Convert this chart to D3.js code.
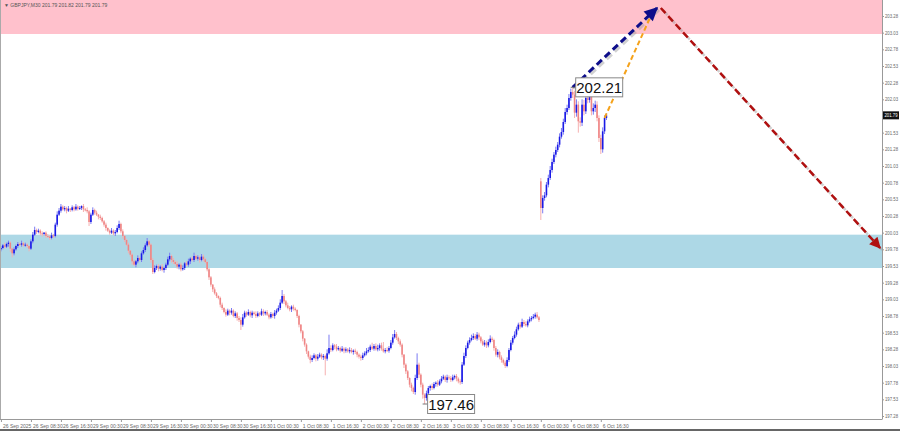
<!DOCTYPE html>
<html>
<head>
<meta charset="utf-8">
<script src="https://cdn.jsdelivr.net/npm/d3@7"></script>
<style>
  body { margin: 0; background: #fff; }
  svg { display: block; font-family: "Liberation Sans", Arial, sans-serif; }
</style>
</head>
<body>
<div id="chart"></div>
<script>
// GBPJPY M30 closes, one row per 8 hours (16 bars)
const closes = [
  199.80,199.84,199.82,199.86,199.88,199.79,199.72,199.78,199.83,199.86,199.85,199.87,199.84,199.85,199.83,199.79,
  199.90,200.00,200.07,200.04,200.06,200.02,200.01,200.03,199.98,199.97,199.95,199.99,199.98,200.15,200.30,200.36,
  200.42,200.38,200.40,200.36,200.39,200.37,200.41,200.38,200.42,200.39,200.40,200.43,200.38,200.37,200.35,200.19,
  200.30,200.37,200.33,200.30,200.27,200.25,200.20,200.15,200.10,200.06,200.03,200.06,200.02,200.04,200.10,200.16,
  200.05,199.98,199.92,199.85,199.76,199.70,199.60,199.55,199.60,199.65,199.62,199.72,199.77,199.84,199.90,199.85,
  199.62,199.44,199.50,199.53,199.49,199.52,199.47,199.50,199.55,199.63,199.68,199.62,199.59,199.56,199.52,199.55,
  199.48,199.50,199.57,199.55,199.60,199.64,199.62,199.68,199.64,199.66,199.62,199.67,199.63,199.59,199.48,199.36,
  199.25,199.18,199.12,199.08,199.05,198.95,198.90,198.84,198.80,198.86,198.83,198.86,198.78,198.82,198.75,198.72,
  198.65,198.76,198.83,198.80,198.84,198.79,198.83,198.81,198.78,198.82,198.80,198.85,198.82,198.84,198.80,198.76,
  198.81,198.78,198.83,198.86,198.90,198.98,199.08,199.00,198.94,198.90,198.88,198.92,198.89,198.87,198.78,198.65,
  198.55,198.44,198.35,198.25,198.17,198.12,198.15,198.19,198.14,198.17,198.20,198.16,198.18,198.14,198.22,198.30,
  198.27,198.34,198.32,198.28,198.30,198.26,198.29,198.26,198.28,198.25,198.27,198.24,198.26,198.24,198.20,198.17,
  198.15,198.19,198.22,198.25,198.27,198.32,198.29,198.33,198.28,198.30,198.34,198.29,198.25,198.27,198.26,198.30,
  198.38,198.46,198.51,198.45,198.40,198.35,198.20,198.05,197.95,197.85,197.75,197.70,197.64,197.85,198.05,197.90,
  197.75,197.60,197.55,197.62,197.70,197.73,197.70,197.76,197.78,197.75,197.80,197.84,197.87,197.82,197.86,197.85,
  197.82,197.86,197.88,197.84,197.80,197.79,198.05,198.18,198.30,198.38,198.42,198.45,198.48,198.44,198.50,198.46,
  198.40,198.35,198.38,198.34,198.39,198.44,198.42,198.30,198.20,198.24,198.16,198.12,198.08,198.03,198.12,198.27,
  198.38,198.45,198.50,198.58,198.65,198.62,198.69,198.66,198.64,198.70,198.73,198.75,198.77,198.80,198.76,198.72,
  200.40,200.55,200.59,200.75,200.85,200.97,201.09,201.20,201.27,201.35,201.47,201.54,201.69,201.84,201.90,202.05,
  202.14,202.10,201.83,201.95,201.70,201.68,201.95,201.85,202.05,202.02,202.08,201.85,201.90,201.95,201.75,201.45,
  201.28,201.55,201.75,201.79
];
// upper / lower shadows in pips beyond the body
const wickUp = [
  3,2,4,2,3,2,1,3,2,3,2,4,2,3,2,1,
  3,4,5,2,3,2,3,1,2,3,2,4,2,3,5,4,
  4,2,3,2,4,1,3,2,4,2,3,1,3,2,4,2,
  3,4,2,3,1,3,2,2,3,1,2,4,2,3,4,5,
  2,3,1,2,3,1,2,3,2,4,2,3,4,3,5,2,
  2,3,4,2,3,2,4,2,3,4,5,2,3,2,4,2,
  3,4,2,3,4,2,3,5,2,3,2,4,3,2,1,2,
  2,1,3,2,1,2,3,1,4,3,2,4,2,3,2,3,
  4,5,3,2,4,2,3,2,4,3,2,4,3,2,3,2,
  3,2,4,3,4,5,9,3,2,4,3,2,3,2,1,2,
  1,2,1,2,1,3,4,3,2,4,3,2,3,2,6,20,
  4,3,2,4,3,2,4,2,3,2,4,3,2,3,2,2,
  3,4,3,5,4,3,6,3,4,5,3,4,10,3,4,3,
  4,5,6,3,2,3,2,1,2,2,1,3,2,5,17,3,
  2,3,2,4,3,2,4,3,2,4,3,4,3,2,4,3,
  3,4,2,3,2,3,4,5,4,3,4,5,4,3,4,3,
  2,3,4,3,4,5,3,2,3,4,2,3,2,3,4,3,
  4,3,5,4,3,4,5,3,4,3,4,3,4,3,4,2,
  5,4,5,4,5,6,5,4,5,4,5,6,5,6,5,6,
  5,7,6,8,5,6,8,7,6,15,8,6,7,6,5,4,
  5,6,4,3
];
const wickDn = [
  3,2,3,2,4,5,6,3,2,3,2,3,2,2,3,4,
  2,3,2,3,2,3,4,2,3,2,3,2,3,2,3,2,
  3,2,3,4,2,3,2,3,2,3,2,3,4,2,3,6,
  3,2,3,2,4,3,2,3,4,2,3,2,3,4,2,3,
  3,4,3,2,4,3,5,2,4,3,2,3,2,3,2,3,
  4,3,2,3,4,3,2,4,3,2,3,4,3,2,3,4,
  3,2,3,2,3,4,2,3,2,3,4,2,3,2,3,4,
  3,4,2,3,2,4,3,2,3,2,4,3,2,3,4,3,
  8,3,2,3,2,3,4,2,3,2,3,2,4,3,2,3,
  2,3,4,3,2,3,2,4,3,2,3,4,3,2,3,4,
  3,4,3,4,3,5,3,2,4,3,2,3,4,25,3,2,
  3,2,4,3,2,3,2,4,3,2,3,2,4,3,4,3,
  4,3,2,3,2,3,2,3,2,3,4,3,2,3,2,3,
  2,3,2,3,4,3,4,5,4,3,4,5,3,4,3,5,
  4,6,9,4,3,4,3,2,4,3,2,3,2,3,4,3,
  3,2,3,4,3,4,3,2,3,2,3,2,3,2,3,4,
  3,2,3,4,3,2,3,4,3,4,3,4,3,3,2,3,
  2,3,2,3,2,3,2,3,2,3,2,3,2,3,2,3,
  18,8,4,3,4,3,4,3,4,3,4,3,4,3,4,3,
  4,5,8,6,17,6,5,6,4,5,4,6,5,6,5,6,
  7,5,4,3
];
// opens follow the previous close, except the first bar and the Monday gap
const firstOpen = 199.78;
const gapBar = 288, gapOpen = 200.80;

// 201.78 sits under the current price tag, so it is not listed
const priceTicks = [203.28,203.03,202.78,202.53,202.28,202.03,201.53,201.28,201.03,200.78,200.53,
  200.28,200.03,199.78,199.53,199.28,199.03,198.78,198.53,198.28,198.03,197.78,197.53,197.28];
const timeTickBars = [0,16,32,48,64,80,96,112,128,144,160,176,192,208,224,240,256,272,288,304,320];
const timeTickLabels = ["26 Sep 2025","26 Sep 08:30","26 Sep 16:30","29 Sep 00:30","29 Sep 08:30","29 Sep 16:30",
  "30 Sep 00:30","30 Sep 08:30","30 Sep 16:30","1 Oct 00:30","1 Oct 08:30","1 Oct 16:30","2 Oct 00:30",
  "2 Oct 08:30","2 Oct 16:30","3 Oct 00:30","3 Oct 08:30","3 Oct 16:30","6 Oct 00:30","6 Oct 08:30","6 Oct 16:30"];

const resistanceZone = [203.01, 203.70];
const supportZone = [199.50, 200.00];
const extremes = [{ bar: 305, price: 202.21 }, { bar: 226, price: 197.46 }];
const lastPrice = 201.79;
// wave forecast arrows: [bar, price]
const waveUp = [[305, 202.21], [350, 203.40]];
const waveAlt = [[322, 201.75], [347, 203.30]];
const waveDown = [[352, 203.40], [469, 199.80]];

const width = 900, height = 431;
const plotRight = 882, plotBottom = 419;

const bars = closes.map((c, i) => {
  const o = i === 0 ? firstOpen : (i === gapBar ? gapOpen : closes[i - 1]);
  return { i, o, c, h: Math.max(o, c) + wickUp[i] / 100, l: Math.min(o, c) - wickDn[i] / 100 };
});

const x = d3.scaleLinear().domain([-0.5, 470]).range([0, plotRight]);
const y = d3.scaleLinear().domain([197.28, 203.28]).range([416, 16]);

const svg = d3.select("#chart").append("svg")
  .attr("width", width)
  .attr("height", height);

const defs = svg.append("defs");
defs.append("clipPath").attr("id", "plot-clip")
  .append("rect").attr("x", 0).attr("y", 0).attr("width", plotRight).attr("height", plotBottom);

function marker(id, color) {
  defs.append("marker")
    .attr("id", id)
    .attr("viewBox", "0 0 10 10")
    .attr("refX", 9).attr("refY", 5)
    .attr("markerWidth", 5).attr("markerHeight", 4.5)
    .attr("markerUnits", "strokeWidth")
    .attr("orient", "auto")
    .append("path").attr("d", "M0,0 L10,5 L0,10 z").attr("fill", color);
}
marker("head-navy", "#0d0d8a");
marker("head-red", "#b01010");

const plot = svg.append("g").attr("clip-path", "url(#plot-clip)");

// zones
plot.append("rect")
  .attr("x", 0).attr("width", plotRight)
  .attr("y", y(resistanceZone[1])).attr("height", y(resistanceZone[0]) - y(resistanceZone[1]))
  .attr("fill", "#ffc1cc");
plot.append("rect")
  .attr("x", 0).attr("width", plotRight)
  .attr("y", y(supportZone[1])).attr("height", y(supportZone[0]) - y(supportZone[1]))
  .attr("fill", "#add8e6");

// candles
const candle = plot.append("g").selectAll("g")
  .data(bars)
  .join("g");

candle.append("rect")
  .attr("x", d => x(d.i) - 0.5)
  .attr("width", 1)
  .attr("y", d => y(d.h))
  .attr("height", d => Math.max(1, y(d.l) - y(d.h)))
  .attr("fill", d => d.c >= d.o ? "#7b7bf2" : "#f6b0b0");

candle.append("rect")
  .attr("x", d => x(d.i) - 0.8)
  .attr("width", 1.6)
  .attr("y", d => y(Math.max(d.o, d.c)))
  .attr("height", d => Math.max(1, Math.abs(y(d.o) - y(d.c))))
  .attr("fill", d => d.c >= d.o ? "#1a1ae6" : "#ef8585");

// wave arrows
const line = d3.line().x(d => x(d[0])).y(d => y(d[1]));

plot.append("path").datum(waveUp)
  .attr("d", line).attr("transform", "translate(2,2)")
  .attr("fill", "none").attr("stroke", "#999").attr("stroke-opacity", 0.45)
  .attr("stroke-width", 3).attr("stroke-dasharray", "7,4");
plot.append("path").datum(waveDown)
  .attr("d", line).attr("transform", "translate(2,2)")
  .attr("fill", "none").attr("stroke", "#999").attr("stroke-opacity", 0.45)
  .attr("stroke-width", 2.5).attr("stroke-dasharray", "7,4");

plot.append("path").datum(waveAlt)
  .attr("d", line)
  .attr("fill", "none").attr("stroke", "#f5a21a")
  .attr("stroke-width", 2).attr("stroke-dasharray", "5,3");

plot.append("path").datum(waveUp)
  .attr("d", line)
  .attr("fill", "none").attr("stroke", "#0d0d8a")
  .attr("stroke-width", 3).attr("stroke-dasharray", "7,4")
  .attr("marker-end", "url(#head-navy)");

plot.append("path").datum(waveDown)
  .attr("d", line)
  .attr("fill", "none").attr("stroke", "#b01010")
  .attr("stroke-width", 2.5).attr("stroke-dasharray", "7,4")
  .attr("marker-end", "url(#head-red)");

// extreme price labels
const ext = svg.append("g").selectAll("g")
  .data(extremes)
  .join("g")
  .attr("transform", d => `translate(${x(d.bar)},${y(d.price)})`);

ext.append("line")
  .attr("x1", -2).attr("x2", 3).attr("y1", 0).attr("y2", 0)
  .attr("stroke", "#777").attr("stroke-width", 1);
ext.append("rect")
  .attr("x", 3).attr("y", -9.5).attr("width", 47).attr("height", 19)
  .attr("fill", "#fff").attr("stroke", "#888").attr("stroke-width", 1);
ext.append("text")
  .attr("x", 26.5).attr("y", 5.5)
  .attr("text-anchor", "middle")
  .style("font-size", "15px")
  .style("fill", "#111")
  .text(d => d.price.toFixed(2));

// right price axis
const yAxis = svg.append("g")
  .attr("transform", `translate(${plotRight},0)`)
  .call(d3.axisRight(y).tickValues(priceTicks).tickFormat(d3.format(".2f")).tickSize(2).tickPadding(1));
yAxis.select(".domain").remove();
yAxis.selectAll("text")
  .attr("textLength", 13).attr("lengthAdjust", "spacingAndGlyphs")
  .style("font-size", "5px").style("fill", "#666");
yAxis.selectAll("line").attr("stroke", "#999");

svg.append("line")
  .attr("x1", plotRight + 0.5).attr("x2", plotRight + 0.5)
  .attr("y1", 0).attr("y2", plotBottom)
  .attr("stroke", "#999");

// bottom time axis
const xAxis = svg.append("g")
  .attr("transform", `translate(0,${plotBottom})`)
  .call(d3.axisBottom(x).tickValues(timeTickBars).tickFormat((d, i) => timeTickLabels[i]).tickSize(3).tickPadding(2.5));
xAxis.select(".domain").remove();
xAxis.selectAll("text").attr("text-anchor", "start").attr("dx", 1.5).style("font-size", "5px").style("fill", "#666");
xAxis.selectAll("line").attr("stroke", "#999");

svg.append("line")
  .attr("x1", 0).attr("x2", plotRight + 0.5)
  .attr("y1", plotBottom + 0.5).attr("y2", plotBottom + 0.5)
  .attr("stroke", "#999");
svg.append("line")
  .attr("x1", 0.5).attr("x2", 0.5)
  .attr("y1", 0).attr("y2", plotBottom)
  .attr("stroke", "#aaa");

// current price tag
svg.append("rect")
  .attr("x", plotRight + 1).attr("y", y(lastPrice) - 4)
  .attr("width", 16).attr("height", 8)
  .attr("fill", "#111");
svg.append("text")
  .attr("x", plotRight + 2.5).attr("y", y(lastPrice) + 2)
  .attr("textLength", 13).attr("lengthAdjust", "spacingAndGlyphs")
  .style("font-size", "5px").style("fill", "#fff")
  .text(lastPrice.toFixed(2));

// window bottom strip
svg.append("rect")
  .attr("x", 0).attr("y", 429).attr("width", width).attr("height", 2)
  .attr("fill", "#666");

// symbol caption
svg.append("text")
  .attr("x", 4).attr("y", 7)
  .style("font-size", "5px").style("fill", "#555")
  .text("\u25BC GBPJPY,M30  201.79 201.82 201.79 201.79");
</script>
</body>
</html>
